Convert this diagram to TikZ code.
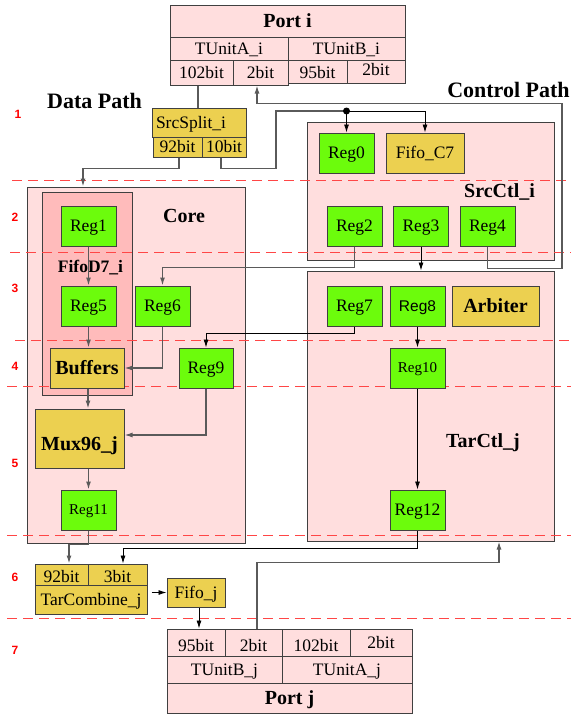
\documentclass[tikz,border=0pt]{standalone}
\usepackage{fontspec}
\setmainfont{Liberation Serif}
\newfontfamily\sansf{Liberation Sans}
\usetikzlibrary{arrows.meta}
\definecolor{pinkf}{RGB}{255,222,222}
\definecolor{fifof}{RGB}{255,187,187}
\definecolor{regg}{RGB}{108,252,12}
\definecolor{yell}{RGB}{236,208,80}
\definecolor{bord}{RGB}{64,64,64}
\definecolor{dashr}{RGB}{255,70,70}
\definecolor{linegray}{RGB}{90,90,90}
\tikzset{
 cellbase/.style={draw=bord, line width=1pt, inner sep=0pt, text height=11.6pt, text depth=0pt, font=\fontsize{17.5}{20}\selectfont},
 pcell/.style={cellbase, fill=pinkf},
 regbox/.style={cellbase, fill=regg, minimum width=55pt, minimum height=40pt},
 ybox/.style={cellbase, fill=yell},
 boldtxt/.style={font=\fontsize{20}{24}\selectfont\bfseries, text height=13.2pt},
 smalltxt/.style={font=\fontsize{15}{18}\selectfont, text height=9.9pt},
 bigbox/.style={draw=bord, line width=1pt, fill=pinkf, inner sep=0pt},
 lbl/.style={font=\fontsize{20}{24}\selectfont\bfseries, inner sep=0pt, anchor=base},
 stagenum/.style={font=\sansf\bfseries\fontsize{12}{14}\selectfont, text=red, inner sep=0pt},
 stageline/.style={draw=dashr, line width=1pt, dash pattern=on 10pt off 6pt},
 bconn/.style={draw=black, line width=0.8pt},
 gconnect/.style={draw=linegray, line width=1.3pt},
 arr/.style={-{Latex[length=8pt,width=5pt]}},
}
\begin{document}
\begin{tikzpicture}[x=1pt,y=-1pt]
\useasboundingbox (0,0) rectangle (571,715);
% big containers
\node[bigbox, minimum width=218pt, minimum height=356pt] (core) at (136,365) {};
\node[bigbox, fill=fifof, minimum width=90pt, minimum height=203pt] (fifod) at (87,293.5) {};
\node[bigbox, minimum width=247pt, minimum height=138pt] (srcctl) at (430.5,191) {};
\node[bigbox, minimum width=247pt, minimum height=270pt] (tarctl) at (430.5,406) {};
% labels
\node[lbl] (lcore) at (184,222) {Core};
\node[lbl, font=\fontsize{17.5}{20}\selectfont\bfseries] (lfifo) at (90.5,272) {FifoD7\_i};
\node[lbl] (lsrc) at (499.5,197) {SrcCtl\_i};
\node[lbl] (ltar) at (483,447) {TarCtl\_j};
\node[lbl, font=\fontsize{22}{26}\selectfont\bfseries] (ldata) at (94.5,108) {Data Path};
\node[lbl, font=\fontsize{22}{26}\selectfont\bfseries] (lctrl) at (508.5,97) {Control Path};
% stage separators
\draw[stageline] (12,180) -- (571,180);
\draw[stageline] (10,252) -- (571,252);
\draw[stageline] (15,340) -- (571,340);
\draw[stageline] (7,386) -- (571,386);
\draw[stageline] (7,535) -- (571,535);
\draw[stageline] (7,618) -- (571,618);
% stage numbers
\node[stagenum] (s1) at (18,114) {1};
\node[stagenum] (s2) at (15,217) {2};
\node[stagenum] (s3) at (15,288) {3};
\node[stagenum] (s4) at (15,366) {4};
\node[stagenum] (s5) at (15,463) {5};
\node[stagenum] (s6) at (15,577) {6};
\node[stagenum] (s7) at (15,650) {7};
% Port i
\node[pcell, boldtxt, minimum width=235pt, minimum height=32pt] (pit) at (287.5,21) {Port i};
\node[pcell, minimum width=118pt, minimum height=23pt] (pia) at (229,48.5) {TUnitA\_i};
\node[pcell, minimum width=117pt, minimum height=23pt] (pib) at (346.5,48.5) {TUnitB\_i};
\node[pcell, minimum width=63pt, minimum height=25pt] (pia1) at (201.5,72.5) {102bit};
\node[pcell, minimum width=55pt, minimum height=25pt] (pia2) at (260.5,72.5) {2bit};
\node[pcell, minimum width=59pt, minimum height=23pt, text height=14.6pt] (pib1) at (317.5,71.5) {95bit};
\node[pcell, minimum width=58pt, minimum height=23pt, text height=8.6pt] (pib2) at (376,71.5) {2bit};
% SrcSplit
\node[ybox, minimum height=29pt, text width=86pt, inner xsep=4pt, align=left] (sst) at (199,122.5) {SrcSplit\_i};
\node[ybox, minimum width=49pt, minimum height=20pt] (ssa) at (177.5,147) {92bit};
\node[ybox, minimum width=44pt, minimum height=20pt] (ssb) at (224,147) {10bit};
% SrcCtl
\node[regbox] (reg0) at (346.5,153) {Reg0};
\node[ybox, minimum width=78pt, minimum height=40pt] (fifoc7) at (425,153) {Fifo\_C7};
\node[regbox] (reg2) at (354.5,226) {Reg2};
\node[regbox] (reg3) at (421,226) {Reg3};
\node[regbox] (reg4) at (487.5,226) {Reg4};
% TarCtl
\node[regbox] (reg7) at (354.5,306) {Reg7};
\node[regbox, font=\sansf\fontsize{15.5}{18}\selectfont, text height=11pt] (reg8) at (417.5,306) {Reg8};
\node[ybox, boldtxt, minimum width=87pt, minimum height=40pt] (arb) at (495.5,306) {Arbiter};
\node[regbox, smalltxt] (reg10) at (417.5,368) {Reg10};
\node[regbox] (reg12) at (417.5,510) {Reg12};
% Core
\node[regbox] (reg1) at (88.5,226) {Reg1};
\node[regbox] (reg5) at (88.5,306) {Reg5};
\node[regbox] (reg6) at (162.5,306) {Reg6};
\node[ybox, boldtxt, minimum width=74pt, minimum height=40pt] (buf) at (87,368) {Buffers};
\node[regbox, minimum width=54pt] (reg9) at (206,368) {Reg9};
\node[ybox, boldtxt, minimum width=89pt, minimum height=59pt, text height=24.2pt] (mux) at (79.5,438.5) {Mux96\_j};
\node[regbox, smalltxt] (reg11) at (88.5,510) {Reg11};
% TarCombine and Fifo_j
\node[ybox, minimum width=53pt, minimum height=21pt, text height=15.6pt] (tca) at (61.5,574.5) {92bit};
\node[ybox, minimum width=59pt, minimum height=21pt, text height=15.6pt] (tcb) at (117.5,574.5) {3bit};
\node[ybox, minimum width=112pt, minimum height=29pt] (tcc) at (91,599.5) {TarCombine\_j};
\node[ybox, minimum width=58pt, minimum height=29pt] (fifoj) at (196,592.5) {Fifo\_j};
% Port j
\node[pcell, minimum width=58pt, minimum height=27pt, text height=18.6pt] (pj1) at (196,642.5) {95bit};
\node[pcell, minimum width=57pt, minimum height=27pt, text height=18.6pt] (pj2) at (253.5,642.5) {2bit};
\node[pcell, minimum width=68pt, minimum height=27pt, text height=18.6pt] (pj3) at (316,642.5) {102bit};
\node[pcell, minimum width=62pt, minimum height=27pt] (pj4) at (381,642.5) {2bit};
\node[pcell, minimum width=115pt, minimum height=27pt] (pjb) at (224.5,669.5) {TUnitB\_j};
\node[pcell, minimum width=130pt, minimum height=27pt] (pja) at (347,669.5) {TUnitA\_j};
\node[pcell, boldtxt, minimum width=245pt, minimum height=30pt] (pjt) at (289.5,698) {Port j};
% connectors
\draw[gconnect] ([xshift=-3.5pt]pia1.south) -- ([xshift=-3.5pt]pia1.south |- sst.north);
\draw[gconnect, arr] ([xshift=1.5pt]ssa.south) -- ++(0,11) -| ([xshift=-53pt]core.north);
\coordinate (jn) at (346.5,111);
\draw[gconnect] ([xshift=-3pt]ssb.south) -- ++(0,11) -- ++(55,0) |- (jn);
\draw[bconn, arr] (jn) -- (reg0.north);
\draw[bconn, arr] (jn) -| (fifoc7.north);
\fill (jn) circle (3.5pt);
\draw[gconnect, arr] (reg4.south) -- ++(0,22) -- ++(74.5,0) -- ++(0,-165) -| ([xshift=-3.5pt]pia2.south);
\draw[bconn, arr] (reg3.south) -- (reg3.south |- tarctl.north);
\draw[gconnect, arr] (reg2.south) -- ++(0,21) -| (reg6.north);
\draw[bconn, arr] (reg7.south) -- ++(0,7) -| (reg9.north);
\draw[gconnect, arr] (reg6.south) |- (buf.east);
\draw[gconnect, arr] (reg9.south) |- ([yshift=3.5pt]mux.east);
\draw[gconnect, arr] (reg1.south) -- (reg5.north);
\draw[gconnect, arr] (reg5.south) -- (reg5.south |- buf.north);
\draw[gconnect, arr] ([xshift=1pt]buf.south) -- ([xshift=1pt]buf.south |- mux.north);
\draw[gconnect, arr] (reg11.north |- mux.south) -- (reg11.north);
\draw[bconn, arr] (reg8.south) -- (reg10.north);
\draw[bconn, arr] (reg10.south) -- (reg12.north);
\draw[gconnect, arr] (reg11.south) -- ++(0,14) -| ([xshift=7.5pt]tca.north);
\draw[bconn, arr] (reg12.south) -- ++(0,18) -| ([xshift=5.5pt]tcb.north);
\draw[bconn, arr] ([xshift=4pt]tcc.east |- fifoj.west) -- (fifoj.west);
\draw[bconn, arr] ([xshift=3pt]fifoj.south) -- ([xshift=3pt]fifoj.south |- pj1.north);
\draw[gconnect, arr] ([xshift=3.5pt]pj2.north) -- ++(0,-66) -| ([xshift=68.5pt]tarctl.south);
\end{tikzpicture}
\end{document}
